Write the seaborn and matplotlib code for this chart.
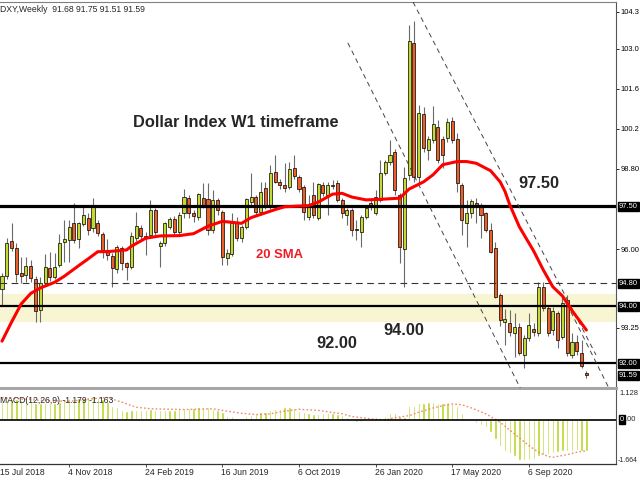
import numpy as np
import pandas as pd
import matplotlib
matplotlib.use("Agg")
import matplotlib.pyplot as plt
import matplotlib.transforms as mtransforms
import seaborn as sns

# weekly DXY candles, first bar = week starting 29 Jul 2018
first_week = "2018-07-29"

opens = [94.60, 95.06, 96.30, 96.05, 95.15, 95.10, 95.42, 94.95, 93.87, 94.80,
         95.33, 95.03, 95.46, 96.26, 96.32, 96.92, 96.34, 96.88, 97.08, 96.73,
         96.92, 96.52, 95.97, 95.76, 95.30, 96.03, 95.50, 95.37, 96.38, 96.75,
         96.45, 96.49, 97.37, 96.10, 96.20, 96.78, 97.04, 96.61, 97.25, 97.80,
         97.25, 97.13, 97.78, 97.74, 96.67, 97.72, 97.30, 95.70, 95.83, 96.92,
         96.38, 96.78, 97.66, 97.83, 97.31, 98.13, 97.49, 98.71, 98.36, 98.24,
         98.16, 98.82, 98.51, 98.18, 97.13, 97.89, 97.08, 98.24, 97.89, 98.24,
         98.30, 97.72, 97.19, 97.37, 96.70, 96.61, 97.13, 97.60, 97.25, 97.72,
         98.67, 99.06, 99.40, 97.90, 96.00, 98.59, 103.22, 98.53, 100.71, 99.46,
         99.81, 100.28, 99.84, 99.87, 100.47, 99.84, 98.24, 96.92, 97.25, 97.60,
         97.54, 97.25, 96.67, 96.03, 94.39, 93.45, 93.40, 93.05, 93.29, 92.30,
         92.89, 93.20, 93.05, 94.66, 93.93, 93.17, 93.76, 92.94, 94.22, 92.30,
         92.76, 92.36, 91.68]
highs = [95.15, 96.38, 96.92, 96.20, 95.73, 95.73, 95.62, 95.05, 95.03, 95.83,
         95.89, 95.85, 96.52, 97.02, 97.02, 97.60, 96.95, 97.54, 97.25, 97.78,
         97.02, 96.60, 96.34, 95.85, 96.15, 96.12, 95.55, 96.61, 97.31, 96.85,
         96.61, 97.72, 97.45, 96.30, 96.96, 97.13, 97.15, 97.30, 98.09, 97.89,
         97.37, 97.95, 98.30, 98.30, 98.06, 97.80, 97.35, 96.00, 97.25, 97.13,
         96.85, 97.78, 98.65, 97.90, 98.36, 98.36, 98.94, 99.29, 98.45, 99.01,
         99.06, 99.29, 98.60, 98.25, 97.89, 98.36, 98.30, 98.36, 98.36, 98.40,
         98.42, 97.79, 97.45, 97.45, 97.02, 97.20, 97.49, 97.72, 98.06, 99.12,
         99.12, 99.81, 99.50, 97.95, 98.88, 103.83, 103.99, 101.04, 100.98, 99.95,
         101.00, 100.50, 99.95, 100.57, 100.62, 100.05, 98.30, 97.72, 97.75, 97.78,
         97.60, 97.30, 96.90, 96.26, 94.45, 93.90, 93.87, 93.75, 93.40, 93.00,
         93.75, 93.40, 94.86, 94.85, 94.00, 93.99, 93.85, 94.40, 94.40, 93.05,
         93.00, 92.82, 91.75]
lows = [94.05, 94.95, 95.95, 94.85, 94.80, 94.86, 94.86, 93.46, 93.46, 94.75,
        94.90, 94.95, 95.38, 95.56, 95.56, 96.20, 96.03, 96.80, 96.50, 96.60,
        96.45, 95.68, 95.62, 94.69, 95.15, 95.27, 94.92, 95.30, 96.30, 96.30,
        95.80, 96.40, 96.50, 95.38, 96.10, 96.70, 96.50, 96.50, 97.10, 97.10,
        96.96, 97.00, 97.45, 96.49, 96.55, 97.20, 95.44, 95.45, 95.75, 96.30,
        96.25, 96.70, 97.50, 97.20, 97.20, 97.40, 97.40, 98.30, 98.10, 98.00,
        98.10, 98.45, 98.01, 97.02, 97.00, 97.10, 97.00, 97.85, 97.20, 98.10,
        97.65, 97.08, 96.84, 96.46, 96.32, 96.09, 97.05, 97.37, 97.20, 97.65,
        98.60, 98.95, 97.89, 95.50, 94.68, 98.40, 98.36, 98.30, 99.40, 99.11,
        99.70, 99.00, 98.82, 99.75, 99.70, 98.01, 96.49, 96.08, 97.08, 96.90,
        96.39, 96.60, 95.85, 94.30, 93.30, 92.65, 92.95, 92.24, 92.30, 91.84,
        92.80, 92.96, 92.95, 93.85, 92.95, 93.00, 92.53, 92.85, 92.25, 92.20,
        92.30, 91.83, 91.51]
closes = [95.06, 96.20, 96.04, 95.12, 95.05, 95.42, 95.00, 93.84, 94.80, 95.37,
          95.01, 95.38, 96.23, 96.34, 96.76, 96.32, 96.90, 97.19, 96.67, 97.54,
          96.55, 95.97, 95.79, 95.33, 96.06, 95.50, 95.36, 96.46, 96.81, 96.46,
          96.40, 97.37, 96.61, 96.20, 96.90, 97.04, 96.61, 97.19, 97.83, 97.25,
          97.16, 97.91, 97.54, 96.67, 97.72, 97.35, 95.73, 95.85, 96.90, 96.38,
          96.78, 97.74, 97.83, 97.31, 98.01, 97.49, 98.67, 98.36, 98.24, 98.13,
          98.80, 98.55, 98.09, 97.31, 97.51, 97.19, 98.26, 97.95, 98.24, 98.20,
          97.72, 97.25, 97.37, 96.67, 96.65, 97.13, 97.43, 97.49, 97.83, 98.65,
          99.06, 99.29, 98.06, 96.09, 98.50, 103.29, 98.53, 100.75, 99.52, 99.84,
          100.36, 99.11, 99.29, 100.45, 99.81, 98.30, 97.02, 97.25, 97.69, 97.54,
          97.19, 96.67, 95.91, 94.34, 93.52, 93.55, 93.11, 93.29, 92.36, 92.89,
          93.34, 93.10, 94.68, 93.93, 93.05, 93.82, 92.82, 94.10, 92.36, 92.76,
          92.45, 91.90, 91.59]

# 20 SMA (week index, value)
sma_week = [0, 2, 4, 6, 8, 11, 13, 16, 18, 20, 22, 26, 27, 30, 33, 37, 40, 43, 46,
            50, 52, 57, 59, 64, 66, 69, 71, 73, 76, 79, 83, 85, 88, 90, 92, 95, 97,
            99, 102, 104, 105, 106, 108, 111, 113, 115, 117, 119, 122]
sma_value = [92.78, 93.45, 94.08, 94.45, 94.64, 94.84, 95.05, 95.42, 95.66, 95.91,
             95.91, 95.97, 96.10, 96.38, 96.46, 96.47, 96.54, 96.80, 96.97, 96.90,
             97.10, 97.38, 97.48, 97.52, 97.64, 97.92, 97.95, 97.82, 97.72, 97.74,
             97.78, 98.10, 98.35, 98.60, 98.95, 99.06, 99.06, 99.00, 98.74, 98.35,
             98.02, 97.55, 96.78, 95.93, 95.27, 94.68, 94.36, 93.85, 93.17]

# MACD(12,26,9) main values, one per candle
macd = [0.72, 0.76, 0.80, 0.78, 0.76, 0.74, 0.72, 0.64, 0.62, 0.62,
        0.62, 0.64, 0.68, 0.74, 0.78, 0.80, 0.82, 0.84, 0.85, 0.86,
        0.84, 0.80, 0.67, 0.54, 0.48, 0.38, 0.35, 0.36, 0.38, 0.39,
        0.38, 0.40, 0.38, 0.36, 0.37, 0.38, 0.38, 0.42, 0.44, 0.45,
        0.46, 0.48, 0.50, 0.50, 0.42, 0.38, 0.29, 0.16, 0.13, 0.08,
        0.08, 0.16, 0.19, 0.23, 0.29, 0.29, 0.38, 0.42, 0.43, 0.48,
        0.50, 0.45, 0.35, 0.29, 0.25, 0.23, 0.24, 0.25, 0.25, 0.25,
        0.22, 0.20, 0.10, 0.00, -0.09, -0.08, -0.05, -0.03, 0.04, 0.04,
        0.16, 0.26, 0.25, 0.13, 0.10, 0.54, 0.54, 0.63, 0.63, 0.67,
        0.67, 0.63, 0.63, 0.63, 0.60, 0.54, 0.25, 0.08, -0.05, -0.11,
        -0.19, -0.28, -0.47, -0.72, -0.97, -1.16, -1.26, -1.38, -1.51, -1.53,
        -1.51, -1.47, -1.35, -1.31, -1.28, -1.26, -1.22, -1.18, -1.18, -1.16,
        -1.13, -1.16, -1.179]

# signal line (week index, value)
signal_week = [0, 8, 14, 20, 22, 25, 28, 31, 38, 44, 47, 50, 53, 56, 59, 62, 66,
               71, 73, 77, 80, 82, 85, 87, 90, 93, 94, 96, 98, 101, 104, 107, 110,
               112, 114, 115, 118, 120, 122]
signal_value = [0.84, 0.74, 0.70, 0.82, 0.84, 0.67, 0.48, 0.42, 0.39, 0.42, 0.33,
                0.25, 0.20, 0.23, 0.33, 0.40, 0.36, 0.23, 0.13, 0.04, 0.00, 0.08,
                0.16, 0.29, 0.45, 0.58, 0.60, 0.57, 0.45, 0.23, -0.09, -0.53, -0.97,
                -1.22, -1.38, -1.41, -1.31, -1.22, -1.163]

# drawn levels and zone
level_thick = 97.50
levels_solid = [94.00, 92.00]
level_dashed = 94.80
zone = [93.46, 94.43]

# channel lines (week index, price) start/end
channel_lines = [
    [(72.2, 103.21), (108.4, 91.07)],
    [(85.8, 104.64), (124.0, 92.30)],
    [(117.1, 94.36), (126.9, 91.07)],
]

price_ticks = [104.3, 103.0, 101.6, 100.2, 98.8, 96.0, 93.25]
price_tick_labels = ["104.3", "103.0", "101.6", "100.2", "98.80", "96.00", "93.25"]
box_levels = [97.50, 94.80, 94.00, 92.00, 91.59]
box_labels = ["97.50", "94.80", "94.00", "92.00", "91.59"]
date_ticks = ["2018-07-15", "2018-11-04", "2019-02-24", "2019-06-16",
              "2019-10-06", "2020-01-26", "2020-05-17", "2020-09-06"]

bull = "#c5d935"
bear = "#ec5f28"
bar_color = "#b9d42c"
small = 5.4

sns.set_style("white")
plt.rcParams["font.family"] = ["Liberation Sans", "DejaVu Sans"]

df = pd.DataFrame({"open": opens, "high": highs, "low": lows, "close": closes})
df["week"] = np.arange(len(df))
df["date"] = pd.date_range(first_week, periods=len(df), freq="7D")
up = df["close"] >= df["open"]

fig = plt.figure(figsize=(6.4, 4.8), dpi=100)
ax = fig.add_axes([0.0, 0.19167, 0.9625, 0.80417])
axm = fig.add_axes([0.0, 0.03333, 0.9625, 0.15417], sharex=ax)

# price panel
ax.axhspan(zone[0], zone[1], color="#f8f6d2", lw=0, zorder=0)
ax.vlines(df["week"], df["low"], df["high"], color="#6a6a6a", lw=0.8, zorder=3)
body = np.maximum((df["close"] - df["open"]).abs(), 0.025)
ax.bar(df["week"], body, bottom=np.minimum(df["open"], df["close"]), width=0.64,
       color=np.where(up, bull, bear), edgecolor="black", linewidth=0.5, zorder=4)

ax.axhline(level_thick, color="black", lw=2.3, zorder=5)
for lv in levels_solid:
    ax.axhline(lv, color="black", lw=1.6, zorder=5)
ax.axhline(level_dashed, color="#333333", lw=0.8, ls=(0, (6, 4)), zorder=5)

for (x0, y0), (x1, y1) in channel_lines:
    ax.plot([x0, x1], [y0, y1], color="#444444", lw=0.7, ls=(0, (5, 4)), zorder=5)

sns.lineplot(x=sma_week, y=sma_value, ax=ax, color="#ff0000", lw=2.2, zorder=6)

ax.set_ylim(91.143, 104.639)
ax.set_xlim(-0.418, 128.18)
ax.yaxis.tick_right()
ax.set_yticks(price_ticks)
ax.set_yticklabels(price_tick_labels)
ax.tick_params(axis="y", length=2.5, width=0.6, pad=0.6, labelsize=small, colors="black")
ax.tick_params(axis="x", bottom=False, labelbottom=False)
ax.set_xlabel("")
ax.set_ylabel("")

trans = mtransforms.blended_transform_factory(ax.transAxes, ax.transData)
for val, txt in zip(box_levels, box_labels):
    ax.text(1.0045, val, txt, transform=trans, ha="left", va="center", color="white",
            fontsize=small, bbox=dict(boxstyle="square,pad=0.15", fc="black", ec="black"),
            clip_on=False, zorder=10)

ax.text(0.2154, 0.675, "Dollar Index W1 timeframe", transform=ax.transAxes,
        fontsize=11.8, fontweight="bold", va="baseline")
ax.text(0.841, 0.517, "97.50", transform=ax.transAxes, fontsize=11.8,
        fontweight="bold", va="baseline")
ax.text(0.622, 0.1377, "94.00", transform=ax.transAxes, fontsize=11.8,
        fontweight="bold", va="baseline")
ax.text(0.513, 0.104, "92.00", transform=ax.transAxes, fontsize=11.8,
        fontweight="bold", va="baseline")
ax.text(0.4156, 0.338, "20 SMA", transform=ax.transAxes, fontsize=9.4,
        fontweight="bold", color="#ee1c25", va="baseline")

ax.spines["left"].set_visible(False)
ax.spines["top"].set_color("#808080")
ax.spines["right"].set_color("#555555")
ax.spines["right"].set_linewidth(0.8)
ax.spines["bottom"].set_color("#a6a6a6")
ax.spines["bottom"].set_linewidth(2.2)

# MACD panel
axm.bar(df["week"], macd, width=0.5, color=bar_color, zorder=2)
sns.lineplot(x=signal_week, y=signal_value, ax=axm, color="#f28a66", lw=1.0,
             ls=(0, (1.2, 1.6)), zorder=3)
axm.axhline(0, color="black", lw=1.2, zorder=4)
axm.set_ylim(-1.664, 1.128)
axm.set_yticks([])
axm.set_ylabel("")
axm.set_xlabel("")
axm.spines["top"].set_visible(False)
axm.spines["left"].set_visible(False)
axm.spines["right"].set_color("#555555")
axm.spines["right"].set_linewidth(0.8)
axm.spines["bottom"].set_color("#333333")
axm.spines["bottom"].set_linewidth(0.9)

mtrans = mtransforms.blended_transform_factory(axm.transAxes, axm.transData)
axm.text(1.005, 1.128, "1.128", transform=mtrans, ha="left", va="top", fontsize=small)
axm.text(1.003, -1.664, "-1.664", transform=mtrans, ha="left", va="bottom",
         fontsize=5.0)
axm.text(1.006, 0, "0", transform=mtrans, ha="left", va="center", fontsize=small,
         color="white", bbox=dict(boxstyle="square,pad=0.12", fc="black", ec="black"))
axm.text(1.0155, 0, ".00", transform=mtrans, ha="left", va="center", fontsize=small)
axm.text(0.0, 0.83, "MACD(12,26,9) -1.179 -1.163", transform=axm.transAxes,
         fontsize=6.2, va="baseline")

first = pd.Timestamp(first_week)
tick_pos = [(pd.Timestamp(d) - first).days / 7 for d in date_ticks]
tick_txt = [f"{pd.Timestamp(d).day} {pd.Timestamp(d):%b %Y}" for d in date_ticks]
axm.set_xticks([p for p in tick_pos if p >= 0])
axm.set_xticklabels([])
axm.tick_params(axis="x", bottom=True, length=2.5, width=0.6, color="#333333")
xtrans = mtransforms.blended_transform_factory(axm.transData, axm.transAxes)
for p, t in zip(tick_pos, tick_txt):
    # the first label's tick lies left of the visible range, so pin it to the edge
    xp = max(p - 0.2, -0.4)
    axm.text(xp, -0.06, t, transform=xtrans, ha="left", va="top", fontsize=6.2,
             clip_on=False)

fig.text(0.0, 1 - 11.5 / 480, "DXY,Weekly  91.68 91.75 91.51 91.59", fontsize=6.2,
         va="baseline")

fig.savefig("out.png", dpi=100)
